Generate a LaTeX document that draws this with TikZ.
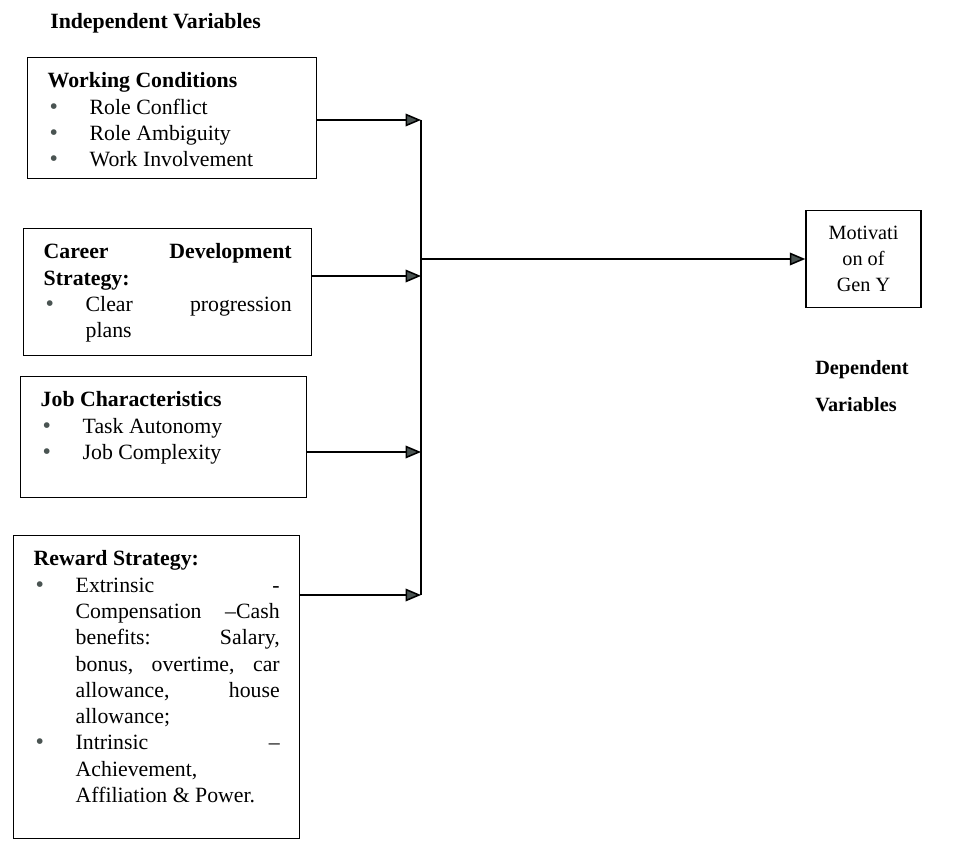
\documentclass[tikz,border=0pt]{standalone}
\usepackage{fontspec}
\setmainfont{Liberation Serif}
\usetikzlibrary{arrows.meta}
\definecolor{tipgray}{HTML}{4A5452}
\newdimen\pxu \pxu=0.025cm
\newcommand{\blt}{\par\noindent\hangindent=42\pxu\hangafter=1\makebox[42\pxu][l]{\hspace{2\pxu}{\color{tipgray}\fontsize{17}{17}\selectfont\textbullet}}}
\newcommand{\boxtext}[3]{\parbox[c][#2\pxu][t]{#1\pxu}{\fontsize{15.5}{18.7}\selectfont #3}}
\begin{document}
\begin{tikzpicture}[x=0.025cm,y=-0.025cm,
  ivbox/.style={draw,line width=1pt,inner xsep=0.5cm,inner ysep=0.375cm,anchor=north west},
  dvbox/.style={draw,line width=1pt,minimum width=2.875cm,minimum height=2.425cm,align=center,
    font=\fontsize{14.4}{18.4}\selectfont},
  wire/.style={line width=1.1pt},
  flow/.style={line width=1.1pt,-{Triangle[length=11pt,width=9pt,fill=tipgray]}}]
  \useasboundingbox (0,0) rectangle (962,841);
  \node[anchor=west,inner sep=0,font=\fontsize{15.5}{18}\selectfont\bfseries] (indep) at (50,23) {Independent Variables};
  \node[ivbox] (work) at (27,57) {\boxtext{249}{91}{\noindent\textbf{Working Conditions}
    \blt Role Conflict
    \blt Role Ambiguity
    \blt Work Involvement}};
  \node[ivbox] (career) at (23,228) {\boxtext{248}{97}{\noindent\textbf{Career \hfill Development\\ Strategy:}
    \blt Clear \hfill progression\\ plans}};
  \node[ivbox] (job) at (20,376) {\boxtext{246}{91}{\noindent\textbf{Job Characteristics}
    \blt Task Autonomy
    \blt Job Complexity}};
  \node[ivbox] (reward) at (13,535) {\boxtext{246}{273}{\noindent\textbf{Reward Strategy:}
    \blt Extrinsic \hfill -\\ Compensation \hfill –Cash\\ benefits: \hfill Salary,\\
    bonus, \hfill overtime, \hfill car\\ allowance, \hfill house\\ allowance;
    \blt Intrinsic \hfill –\\ Achievement,\\ Affiliation \& Power.}};
  \node[dvbox] (motiv) at (863.5,259) {Motivati\\on of\\Gen Y};
  \node[anchor=west,inner sep=0,align=left,font=\fontsize{14.4}{26.2}\selectfont\bfseries] (dep) at (815,386) {Dependent\\Variables};
  % collecting line
  \coordinate (busa) at (421,120);
  \coordinate (busb) at (421,276);
  \coordinate (busc) at (421,452);
  \coordinate (busd) at (421,595);
  \draw[wire] (busa) -- (busd);
  \draw[flow] (work.east |- busa) -- (busa);
  \draw[flow] (career.east |- busb) -- (busb);
  \draw[flow] (job.east |- busc) -- (busc);
  \draw[flow] (reward.east |- busd) -- (busd);
  \draw[flow] (busa |- motiv.west) -- (motiv.west);
\end{tikzpicture}
\end{document}
